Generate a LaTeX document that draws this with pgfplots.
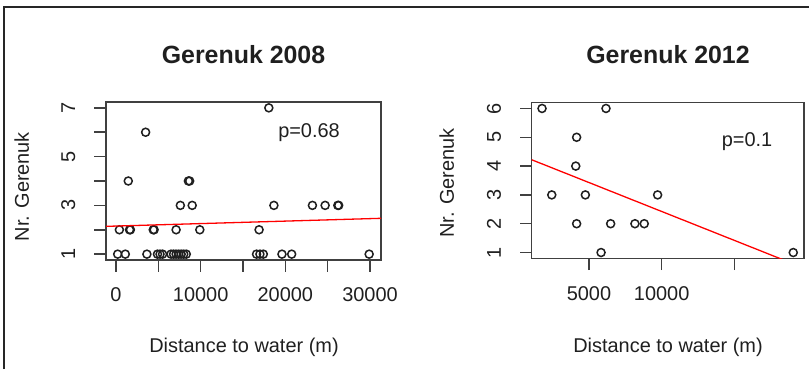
\documentclass[border=0pt]{standalone}
\usepackage{pgfplots}
\pgfplotsset{compat=1.18}
\usepackage{fontspec}
\setmainfont{Liberation Sans}

\pgfplotsset{
  rplot/.style={
    scale only axis, anchor=south west,
    axis line style={black!75, line width=1.5bp},
    tick style={black!75, line width=1.5bp},
    tick align=outside,
    major tick length=11.7bp,
    xtick pos=bottom, ytick pos=left,
    scaled x ticks=false, scaled y ticks=false,
    clip mode=individual,
    tick label style={font=\fontsize{20}{24}\selectfont, text=black!88},
    xticklabel style={anchor=center, yshift=-23.3bp},
    yticklabel style={xshift=-26bp, rotate=90, anchor=center},
  },
  pts/.style={only marks, mark=o, mark size=4bp,
    mark options={line width=1.5bp, draw=black!88}},
  fit/.style={red, line width=1.3bp, no marks},
}

\begin{document}
\begin{tikzpicture}[x=1bp,y=1bp]
\useasboundingbox (0,0) rectangle (809,369);
\draw[line width=1.5bp, black!85] (4,0) -- (4,362) -- (809,362);

% Gerenuk counts against distance to water, 2008
\begin{axis}[rplot, at={(106bp,109bp)}, width=275bp, height=158bp,
  xmin=-1180, xmax=31300, ymin=0.76, ymax=7.24,
  xtick={0,5000,...,30000}, xticklabels={0,,10000,,20000,,30000},
  ytick={1,...,7}, yticklabels={1,,3,,5,,7}]
\addplot[pts] coordinates {
  (200,1) (1100,1) (3650,1) (4900,1) (5200,1) (5500,1) (6500,1) (6800,1)
  (7100,1) (7400,1) (7700,1) (8000,1) (8300,1) (16600,1) (17000,1)
  (17400,1) (19600,1) (20750,1) (29900,1)
  (400,2) (1600,2) (1700,2) (4400,2) (4500,2) (7100,2) (9900,2) (16900,2)
  (7600,3) (9000,3) (18650,3) (23200,3) (24700,3) (26200,3) (26300,3)
  (1450,4) (8550,4) (8700,4)
  (3500,6)
  (18050,7)
};
\addplot[fit] coordinates {(-1180,2.14) (31300,2.47)};
\end{axis}

% Gerenuk counts against distance to water, 2012
\begin{axis}[rplot, at={(531.7bp,110.7bp)}, width=272.3bp, height=155.6bp,
  xmin=1060, xmax=19790, ymin=0.8, ymax=6.2,
  xtick={5000,10000,15000}, xticklabels={5000,10000,},
  ytick={1,...,6}, yticklabels={1,2,3,4,5,6}]
\addplot[pts] coordinates {
  (1770,6) (6170,6) (4150,5) (4090,4) (2440,3) (4750,3) (9720,3)
  (4150,2) (6490,2) (8160,2) (8800,2) (5830,1) (19050,1)
};
\addplot[fit] coordinates {(1060,4.22) (19790,0.46)};
\end{axis}

\begin{scope}[font=\fontsize{20}{24}\selectfont, text=black!88]
\node[font=\bfseries\fontsize{25}{30}\selectfont] at (243.5,314) {Gerenuk 2008};
\node[font=\bfseries\fontsize{25}{30}\selectfont] at (668,314) {Gerenuk 2012};
\node at (244,22) {Distance to water (m)};
\node at (668,22) {Distance to water (m)};
\node[rotate=90] at (21.7,182.3) {Nr. Gerenuk};
\node[rotate=90] at (446.7,186) {Nr. Gerenuk};
\node at (309,236) {p=0.68};
\node at (747,227.3) {p=0.1};
\end{scope}
\end{tikzpicture}
\end{document}
